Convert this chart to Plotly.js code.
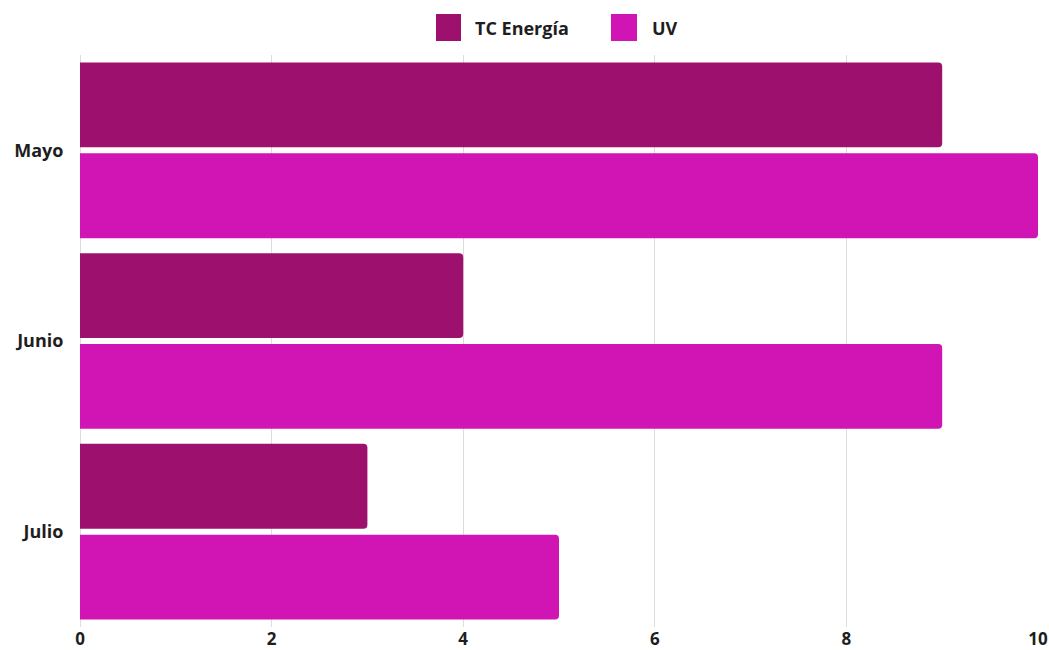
<!DOCTYPE html>
<html>
<head>
<meta charset="utf-8">
<script src="https://cdn.plot.ly/plotly-3.0.1.min.js"></script>
<style>html,body{margin:0;padding:0;background:#fff;}#chart{width:1049px;height:650px;}</style>
</head>
<body>
<div id="chart"></div>
<script>
const categories = ["Mayo", "Junio", "Julio"];
const tcEnergia = [9, 4, 3];
const uv = [10, 9, 5];
const seriesNames = ["TC Energía", "UV"];
const seriesColors = ["#9E106E", "#D115B4"];
const xTicks = [0, 2, 4, 6, 8, 10];

const fontFam = "'Open Sans', Lato, sans-serif";
const data = [
  {type: "bar", orientation: "h", name: seriesNames[0], y: categories, x: tcEnergia,
   marker: {color: seriesColors[0], cornerradius: 4}, showlegend: false},
  {type: "bar", orientation: "h", name: seriesNames[1], y: categories, x: uv,
   marker: {color: seriesColors[1], cornerradius: 4}, showlegend: false}
];

// custom legend (larger swatches, like the reference)
const legendSwatchX = [[0.3716, 0.3977], [0.5543, 0.5814]];
const legendTextX = [0.4102, 0.5950];
const shapes = seriesNames.map((n, i) => ({
  type: "rect", xref: "paper", yref: "paper",
  x0: legendSwatchX[i][0], x1: legendSwatchX[i][1], y0: 1.0245, y1: 1.0717,
  fillcolor: seriesColors[i], line: {width: 0}
}));
const annotations = seriesNames.map((n, i) => ({
  xref: "paper", yref: "paper", x: legendTextX[i], y: 1.0472, xanchor: "left", yanchor: "middle",
  text: n, showarrow: false, font: {family: fontFam, size: 18, weight: 700, color: "#1e1e1e"}
}));

const layout = {
  width: 1049, height: 650,
  margin: {l: 80, r: 11, t: 55, b: 23},
  paper_bgcolor: "#fff", plot_bgcolor: "#fff",
  barmode: "group", bargap: 0.047, bargroupgap: 0.066,
  font: {family: fontFam, size: 18, color: "#1e1e1e", weight: 700},
  showlegend: false,
  shapes: shapes,
  annotations: annotations,
  xaxis: {range: [0, 10], tickvals: xTicks, ticktext: xTicks.map(String), showgrid: true, gridcolor: "#dcdcdc",
          gridwidth: 1, zeroline: true, zerolinecolor: "#dcdcdc", zerolinewidth: 1, showline: false,
          ticks: "", tickfont: {size: 17, weight: 700}, fixedrange: true},
  yaxis: {autorange: "reversed", showgrid: false, zeroline: false, showline: false,
          ticks: "outside", ticklen: 12, tickcolor: "rgba(0,0,0,0)", tickfont: {size: 18, weight: 700}, fixedrange: true}
};
Plotly.newPlot("chart", data, layout, {displayModeBar: false, staticPlot: true});
</script>
</body>
</html>
